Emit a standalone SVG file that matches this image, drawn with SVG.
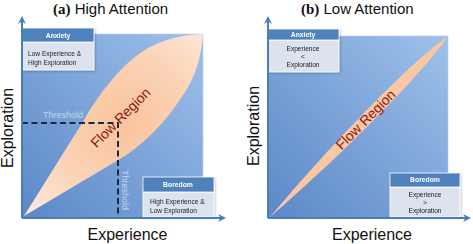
<svg xmlns="http://www.w3.org/2000/svg" width="473" height="244" viewBox="0 0 473 244">
<defs>
<linearGradient id="bg" x1="0" y1="1" x2="1" y2="0">
<stop offset="0" stop-color="#5b88c7"/>
<stop offset="1" stop-color="#9fc1eb"/>
</linearGradient>
<radialGradient id="flow" cx="0.55" cy="0.5" r="0.7">
<stop offset="0" stop-color="#f9c39c"/>
<stop offset="0.6" stop-color="#fbd5b9"/>
<stop offset="1" stop-color="#fde9dc"/>
</radialGradient>
<linearGradient id="flowb" x1="0" y1="0" x2="1" y2="1">
<stop offset="0" stop-color="#fde4d2"/>
<stop offset="0.5" stop-color="#f9c7a2"/>
<stop offset="1" stop-color="#fde4d2"/>
</linearGradient>
<marker id="arr" viewBox="0 0 10 10" refX="5" refY="5" markerWidth="4" markerHeight="4" orient="auto-start-reverse">
<path d="M0,0 L10,5 L0,10 L3,5 Z" fill="#4a7ebb"/>
</marker>
<filter id="sh" x="-10%" y="-10%" width="125%" height="125%">
<feDropShadow dx="1" dy="1" stdDeviation="0.8" flood-color="#000" flood-opacity="0.25"/>
</filter>
</defs>
<style>
.title{font-family:"Liberation Sans",Arial,sans-serif;font-size:15px;fill:#111}
.tb{font-family:"Liberation Serif","Times New Roman",serif;font-weight:bold}
.axl{font-family:"Liberation Sans",Arial,sans-serif;font-size:16px;fill:#111}
.plot{fill:url(#bg);stroke:#b5cdee;stroke-width:0.6}
.hdr{fill:#4f81bd;stroke:#ffffff;stroke-width:0.8}
.body{fill:#dce3ee;stroke:#ffffff;stroke-width:0.8}
.ht{font-family:"Liberation Sans",Arial,sans-serif;font-size:6.8px;font-weight:bold;fill:#ffffff;text-anchor:middle}
.bt{font-family:"Liberation Sans",Arial,sans-serif;font-size:6.6px;fill:#222}
.btc{text-anchor:middle}
.flowt{font-family:"Liberation Sans",Arial,sans-serif;font-size:14px;fill:#8b1a1a;text-anchor:middle}
.thr{font-family:"Liberation Sans",Arial,sans-serif;font-size:9px;fill:#c3d5ee}
.dash{fill:none;stroke:#1c2a40;stroke-width:2;stroke-dasharray:6,3.5}
.axis{fill:none;stroke:#4a7ebb;stroke-width:2;marker-end:url(#arr)}
</style>

<!-- Panel A -->
<g id="title-a"><text class="title" x="53" y="14"><tspan class="tb">(a)</tspan> High Attention</text></g>
<g id="plot-a"><rect class="plot" x="22" y="34" width="181" height="184"/></g>
<g id="flow-a">
<path d="M24,216 L84,120 C100,92 125,60 150,47 C170,37 190,34 203,34 C202,50 197,75 185,92 C178,103 170,114 163,122 C150,137 135,150 120,159 Z" fill="url(#flow)"/>
<text class="flowt" transform="translate(124,121) rotate(-45)">Flow Region</text>
</g>
<g id="threshold-a">
<text class="thr" x="43" y="118">Threshold</text>
<text class="thr" transform="translate(122,170) rotate(90)">Threshold</text>
</g>
<g id="anxiety-a" filter="url(#sh)">
<rect class="body" x="22" y="42" width="72" height="28"/>
<rect class="hdr" x="22" y="28" width="72" height="14"/>
<text class="ht" x="58" y="38">Anxiety</text>
<text class="bt" x="28" y="56">Low Experience &amp;</text>
<text class="bt" x="28" y="65">High Exploration</text>
</g>
<g id="boredom-a" filter="url(#sh)">
<rect class="body" x="143" y="192" width="71" height="25"/>
<rect class="hdr" x="143" y="177" width="71" height="15"/>
<text class="ht" x="178" y="187">Boredom</text>
<text class="bt" x="150" y="204">High Experience &amp;</text>
<text class="bt" x="150" y="213">Low Exploration</text>
</g>
<g id="labels-a">
<text class="axl" transform="translate(12.5,128) rotate(-90)" text-anchor="middle">Exploration</text>
<text class="axl" x="127.5" y="240" text-anchor="middle">Experience</text>
</g>

<!-- Panel B -->
<g id="title-b"><text class="title" x="301" y="14"><tspan class="tb">(b)</tspan> Low Attention</text></g>
<g id="plot-b"><rect class="plot" x="268" y="36" width="180" height="182"/></g>
<g id="flow-b">
<path d="M270,217 C335.1,139.4 414.8,58.4 447,37 C426.2,69.6 346.5,150.6 270,217 Z" fill="url(#flowb)"/>
<text class="flowt" transform="translate(369,123) rotate(-45)">Flow Region</text>
</g>
<g id="anxiety-b" filter="url(#sh)">
<rect class="body" x="268" y="40" width="71" height="32"/>
<rect class="hdr" x="268" y="29" width="71" height="11"/>
<text class="ht" x="303" y="37">Anxiety</text>
<text class="bt btc" x="303" y="51">Experience</text>
<text class="bt btc" x="303" y="59">&lt;</text>
<text class="bt btc" x="303" y="67">Exploration</text>
</g>
<g id="boredom-b" filter="url(#sh)">
<rect class="body" x="390" y="187" width="70" height="30"/>
<rect class="hdr" x="390" y="173" width="70" height="14"/>
<text class="ht" x="425" y="182">Boredom</text>
<text class="bt btc" x="425" y="197">Experience</text>
<text class="bt btc" x="425" y="205">&gt;</text>
<text class="bt btc" x="425" y="213">Exploration</text>
</g>
<g id="labels-b">
<text class="axl" transform="translate(258.5,126) rotate(-90)" text-anchor="middle">Exploration</text>
<text class="axl" x="372" y="240" text-anchor="middle">Experience</text>
</g>

<!-- Connectors -->
<g id="connectors">
<path class="dash" d="M22,123 H118 V218"/>
<path class="axis" d="M22,218 V20"/>
<path class="axis" d="M22,218 H222"/>
<path class="axis" d="M268,218 V20"/>
<path class="axis" d="M268,218 H467"/>
</g>
</svg>
